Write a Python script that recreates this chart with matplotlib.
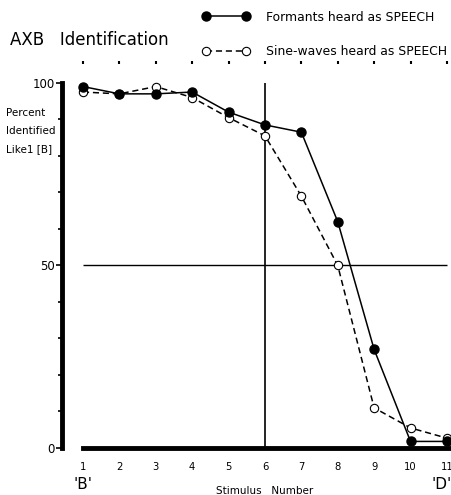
import matplotlib
matplotlib.use("Agg")
import matplotlib.pyplot as plt
from matplotlib.ticker import MultipleLocator, FixedLocator

plt.rcParams['font.family'] = ['DejaVu Sans']

stimulus = [1, 2, 3, 4, 5, 6, 7, 8, 9, 10, 11]
formants = [99, 97, 97, 97.5, 92, 88.5, 86.5, 62, 27, 1.8, 1.8]
sinewaves = [97.5, 97, 99, 96, 90.5, 85.5, 69, 50, 11, 5.5, 2.7]
x_ticks = [1, 2, 3, 4, 5, 6, 7, 8, 9, 10, 11]
y_labels = [0, 50, 100]

W, H = 452, 495
fig = plt.figure(figsize=(W / 100, H / 100), dpi=100)
ax = fig.add_axes([62 / W, (H - 448) / H, (W - 62) / W, (448 - 61) / H])
ax.set_xlim(0.423, 11.14)
ax.set_ylim(0, 106)

# reference lines
ax.hlines(50, 1, 11, color='black', lw=1.0, zorder=1)
ax.vlines(6, 0, 100, color='black', lw=1.2, zorder=1)

l2, = ax.plot(stimulus, sinewaves, color='black', lw=1.1, ls=(0, (4, 2.5)),
              marker='o', ms=6, mfc='white', mec='black', mew=0.8, zorder=2,
              clip_on=False, label='Sine-waves heard as SPEECH')
l1, = ax.plot(stimulus, formants, color='black', lw=1.1, marker='o', ms=6.5,
              mfc='black', mec='black', zorder=3, clip_on=False,
              label='Formants heard as SPEECH')

for s in ['top', 'right']:
    ax.spines[s].set_visible(False)
ax.spines['left'].set_bounds(0, 100)
ax.spines['left'].set_linewidth(3.5)
ax.spines['bottom'].set_bounds(1, 11.1)
ax.spines['bottom'].set_linewidth(3.5)

ax.xaxis.set_major_locator(FixedLocator(x_ticks))
ax.tick_params(axis='x', bottom=False, top=True, direction='in', length=2.5,
               width=1.5, labelbottom=True, labelsize=7.2, pad=10)
ax.yaxis.set_major_locator(FixedLocator(y_labels))
ax.yaxis.set_minor_locator(MultipleLocator(10))
ax.tick_params(axis='y', which='major', length=4, width=1.2, labelsize=8.5, pad=1)
ax.tick_params(axis='y', which='minor', length=3, width=1.2)

fig.text(10 / W, 1 - 40 / H, 'AXB   Identification', fontsize=12, va='center', ha='left')
for i, t in enumerate(['Percent', 'Identified', 'Like1 [B]']):
    fig.text(6 / W, 1 - (113 + 18 * i) / H, t, fontsize=7.5, va='center', ha='left')

trans = ax.get_xaxis_transform()
ax.text(1, -0.095, "'B'", transform=trans, fontsize=11, ha='center', va='center', clip_on=False)
ax.text(1.0, -0.095, "'D'", transform=ax.transAxes, fontsize=11, ha='right', va='center', clip_on=False)
ax.text(6, -0.11, 'Stimulus   Number', transform=trans, fontsize=7.5, ha='center', va='center', clip_on=False)

fig.legend(handles=[l1, l2], loc='upper left', bbox_to_anchor=(194 / W, 1 - 2 / H),
           frameon=False, fontsize=8.9, numpoints=2, handlelength=3.8,
           handletextpad=1.3, labelspacing=1.75, borderpad=0.2)

fig.savefig('out.png', dpi=100)
